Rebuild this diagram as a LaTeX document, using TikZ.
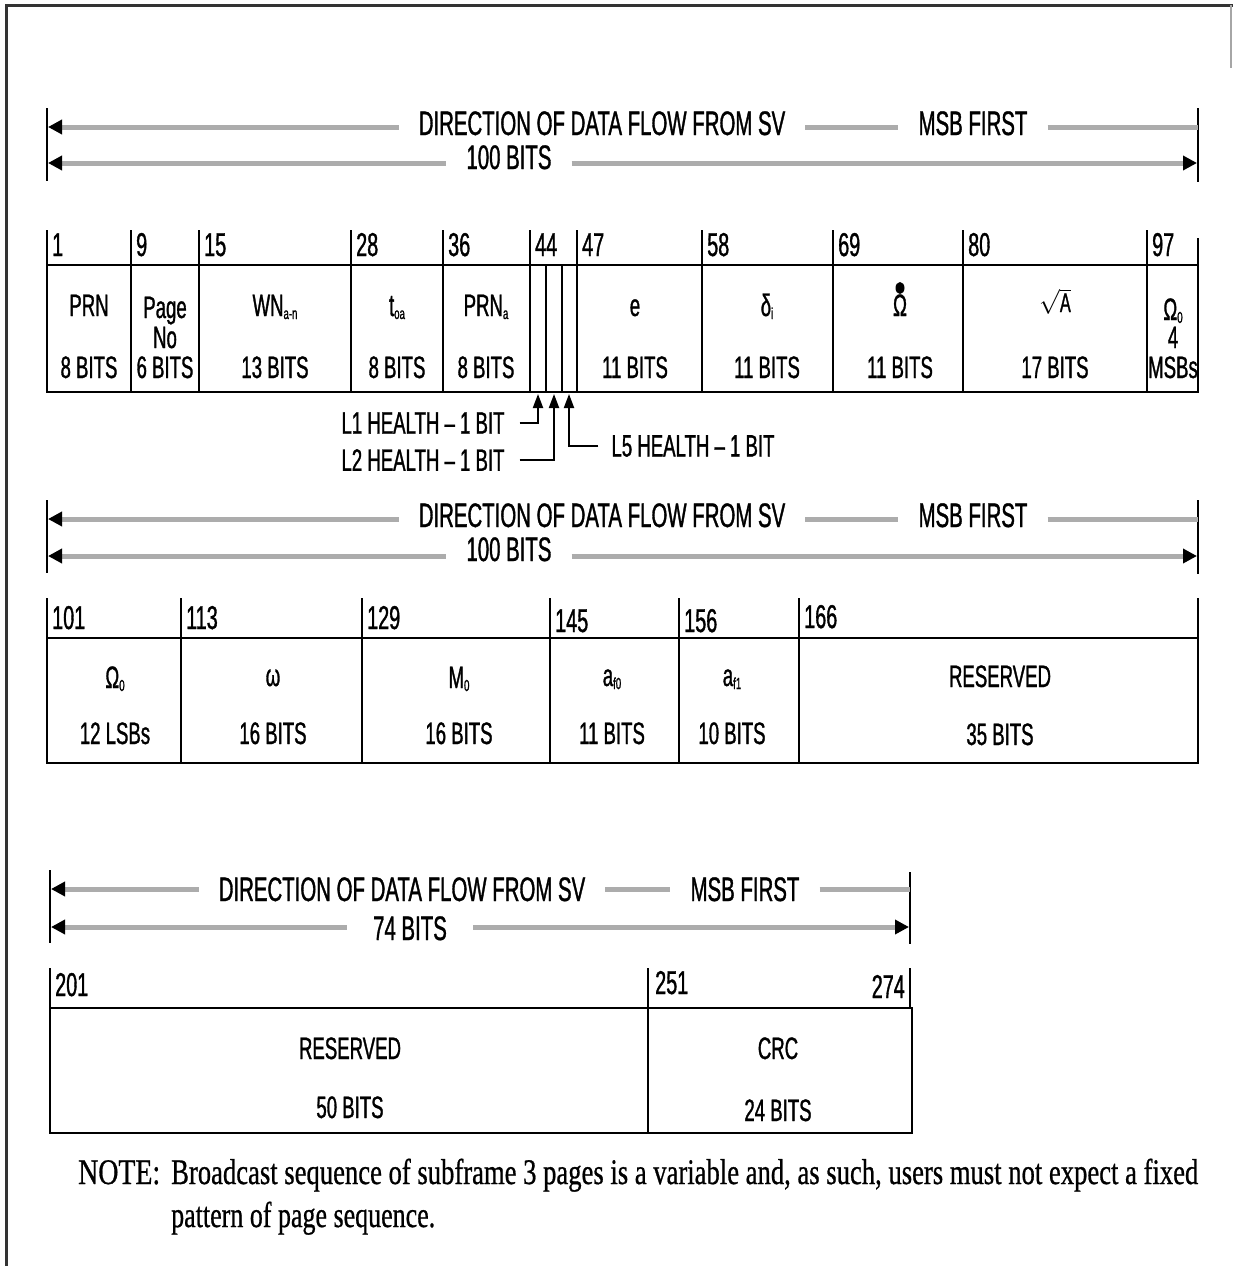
\documentclass[tikz,border=0pt]{standalone}
\usepackage{fontspec}
\usepackage{graphicx}
\usetikzlibrary{arrows.meta}
\newfontfamily\nsans[FakeStretch=0.6,FakeBold=1]{Liberation Sans}
\newfontfamily\nserif[FakeBold=0.8]{Liberation Serif}
\newcommand\fitw[2]{\resizebox{#1}{\height}{#2}}
\newcommand\sbs[1]{\raisebox{-3pt}{\fontsize{16}{16}\selectfont #1}}
\tikzset{
  blk/.tip={Triangle[length=14pt,width=14pt,color=black]},
  hdr/.style={font=\nsans\fontsize{34}{34}\selectfont, inner xsep=20pt, inner ysep=0pt, anchor=base},
  num/.style={font=\nsans\fontsize{33}{33}\selectfont, inner sep=0pt, anchor=base west},
  lab/.style={font=\nsans\fontsize{31}{31}\selectfont, inner sep=0pt, anchor=base, align=center},
  hlab/.style={font=\nsans\fontsize{31}{31}\selectfont, inner ysep=0pt},
  note/.style={font=\nserif\fontsize{36}{36}\selectfont, inner sep=0pt, anchor=base west},
  flow/.style={draw=gray!65, line width=5pt},
  bar/.style={line width=2pt},
  box/.style={line width=2.5pt},
  div/.style={line width=2pt},
  hl/.style={line width=2pt, -{Triangle[length=14pt,width=10pt]}},
}
\begin{document}
\begin{tikzpicture}[x=1pt,y=-1pt]
\useasboundingbox (0,0) rectangle (1233,1266);
\fill[white] (0,0) rectangle (1233,1266);
% frame
\draw[line width=3pt, gray!40!black] (6,1266) -- (6,5) -- (1233,5);
\draw[line width=2pt, gray!70] (1231,5) -- (1231,68);

% ---------- header 1
\draw[bar] (47,108) -- (47,181);
\draw[bar] (1198,108) -- (1198,182);
\coordinate (a1l) at (48,127);
\coordinate (a1r) at (1198,127);
\coordinate (b1l) at (48,163);
\coordinate (b1r) at (1197,163);
\node[hdr] (d1) at (602,135) {DIRECTION OF DATA FLOW FROM SV};
\node[hdr] (m1) at (973,135) {MSB FIRST};
\node[hdr] (c1) at (509,169) {100 BITS};
\draw[flow, blk-] (a1l) -- (a1l -| d1.west);
\draw[flow] (a1l -| d1.east) -- (a1l -| m1.west);
\draw[flow] (a1l -| m1.east) -- (a1r);
\draw[flow, blk-] (b1l) -- (b1l -| c1.west);
\draw[flow, -blk] (b1l -| c1.east) -- (b1r);

% ---------- row 1
\draw[box] (47,265) rectangle (1198,392);
\foreach \x in {131,199,351,443,530,546,562,577,702,833,963,1147}
  \draw[div] (\x,265) -- (\x,392);
\foreach \x in {47,131,199,351,443,530,577,702,833,963,1147}
  \draw[div] (\x,230) -- (\x,265);
\draw[div] (1198,238) -- (1198,265);
\foreach \x/\t in {47/1,131/9,199/15,351/28,443/36,530/44,577/47,702/58,833/69,963/80,1147/97}
  \node[num] (p\t) at (\x+5,256) {\t};

\node[lab] (f1a) at (89,316) {PRN};
\node[lab] (f1b) at (89,378) {8 BITS};
\node[lab] (f2a) at (165,318) {Page};
\node[lab] (f2b) at (165,348) {No};
\node[lab] (f2c) at (165,378) {6 BITS};
\node[lab] (f3a) at (275,316) {WN\sbs{a-n}};
\node[lab] (f3b) at (275,378) {13 BITS};
\node[lab] (f4a) at (397,316) {t\sbs{oa}};
\node[lab] (f4b) at (397,378) {8 BITS};
\node[lab] (f5a) at (486,316) {PRN\sbs{a}};
\node[lab] (f5b) at (486,378) {8 BITS};
\node[lab] (f6a) at (635,316) {e};
\node[lab] (f6b) at (635,378) {11 BITS};
\node[lab] (f7a) at (767,316) {δ\sbs{i}};
\node[lab] (f7b) at (767,378) {11 BITS};
\node[lab] (f8a) at (900,316) {Ω};
\fill (900,288) ellipse (4.5 and 6);
\node[lab] (f8b) at (900,378) {11 BITS};
\node[lab] (f9a) at (1055,312) {\fontsize{27}{27}\selectfont\(\sqrt{\mbox{A}}\)};
\node[lab] (f9b) at (1055,378) {17 BITS};
\node[lab] (f10a) at (1173,320) {Ω\sbs{0}};
\node[lab] (f10b) at (1173,348) {4};
\node[lab] (f10c) at (1173,378) {MSBs};

% health bits
\coordinate (h1) at (538,394);
\coordinate (h2) at (554,394);
\coordinate (h5) at (569,394);
\node[hlab, inner xsep=15pt] (l1) at (423,423) {L1 HEALTH – 1 BIT};
\node[hlab, inner xsep=15pt] (l2) at (423,460) {L2 HEALTH – 1 BIT};
\node[hlab, inner xsep=13pt] (l5) at (693,446) {L5 HEALTH – 1 BIT};
\draw[hl] (l1.east) -| (h1);
\draw[hl] (l2.east) -| (h2);
\draw[hl] (l5.west) -| (h5);

% ---------- header 2
\draw[bar] (47,500) -- (47,573);
\draw[bar] (1198,500) -- (1198,574);
\coordinate (a2l) at (48,519);
\coordinate (a2r) at (1198,519);
\coordinate (b2l) at (48,556);
\coordinate (b2r) at (1197,556);
\node[hdr] (d2) at (602,527) {DIRECTION OF DATA FLOW FROM SV};
\node[hdr] (m2) at (973,527) {MSB FIRST};
\node[hdr] (c2) at (509,561) {100 BITS};
\draw[flow, blk-] (a2l) -- (a2l -| d2.west);
\draw[flow] (a2l -| d2.east) -- (a2l -| m2.west);
\draw[flow] (a2l -| m2.east) -- (a2r);
\draw[flow, blk-] (b2l) -- (b2l -| c2.west);
\draw[flow, -blk] (b2l -| c2.east) -- (b2r);

% ---------- row 2
\draw[box] (47,638) rectangle (1198,763);
\foreach \x in {181,362,550,679,799}
  \draw[div] (\x,638) -- (\x,763);
\foreach \x in {47,181,362,550,679,799,1198}
  \draw[div] (\x,598) -- (\x,638);
\foreach \x/\t/\y in {47/101/629,181/113/629,362/129/629,550/145/632,679/156/632,799/166/628}
  \node[num] (p\t) at (\x+5,\y) {\t};

\node[lab] (g1a) at (115,688) {Ω\sbs{0}};
\node[lab] (g1b) at (115,744) {12 LSBs};
\node[lab] (g2a) at (273,686) {ω};
\node[lab] (g2b) at (273,744) {16 BITS};
\node[lab] (g3a) at (459,688) {M\sbs{0}};
\node[lab] (g3b) at (459,744) {16 BITS};
\node[lab] (g4a) at (612,686) {a\sbs{f0}};
\node[lab] (g4b) at (612,744) {11 BITS};
\node[lab] (g5a) at (732,686) {a\sbs{f1}};
\node[lab] (g5b) at (732,744) {10 BITS};
\node[lab] (g6a) at (1000,687) {RESERVED};
\node[lab] (g6b) at (1000,745) {35 BITS};

% ---------- header 3
\draw[bar] (50,870) -- (50,943);
\draw[bar] (910,872) -- (910,944);
\coordinate (a3l) at (51,889);
\coordinate (a3r) at (910,889);
\coordinate (b3l) at (51,927);
\coordinate (b3r) at (909,927);
\node[hdr] (d3) at (402,901) {DIRECTION OF DATA FLOW FROM SV};
\node[hdr] (m3) at (745,901) {MSB FIRST};
\node[hdr, inner xsep=26pt] (c3) at (410,940) {74 BITS};
\draw[flow, blk-] (a3l) -- (a3l -| d3.west);
\draw[flow] (a3l -| d3.east) -- (a3l -| m3.west);
\draw[flow] (a3l -| m3.east) -- (a3r);
\draw[flow, blk-] (b3l) -- (b3l -| c3.west);
\draw[flow, -blk] (b3l -| c3.east) -- (b3r);

% ---------- row 3
\draw[box] (50,1008) rectangle (912,1133);
\draw[div] (648,1008) -- (648,1133);
\foreach \x in {50,648,910}
  \draw[div] (\x,968) -- (\x,1008);
\node[num] (p201) at (55,996) {201};
\node[num] (p251) at (655,994) {251};
\node[num, anchor=base east] (p274) at (905,998) {274};
\node[lab] (k1a) at (350,1059) {RESERVED};
\node[lab] (k1b) at (350,1118) {50 BITS};
\node[lab] (k2a) at (778,1059) {CRC};
\node[lab] (k2b) at (778,1121) {24 BITS};

% ---------- note
\node[note] (nt) at (78,1184) {\fitw{82pt}{NOTE:}};
\node[note] (n1) at (171,1184) {\fitw{1027pt}{Broadcast sequence of subframe 3 pages is a variable and, as such, users must not expect a fixed}};
\node[note] (n2) at (171,1227) {\fitw{264pt}{pattern of page sequence.}};
\end{tikzpicture}
\end{document}
